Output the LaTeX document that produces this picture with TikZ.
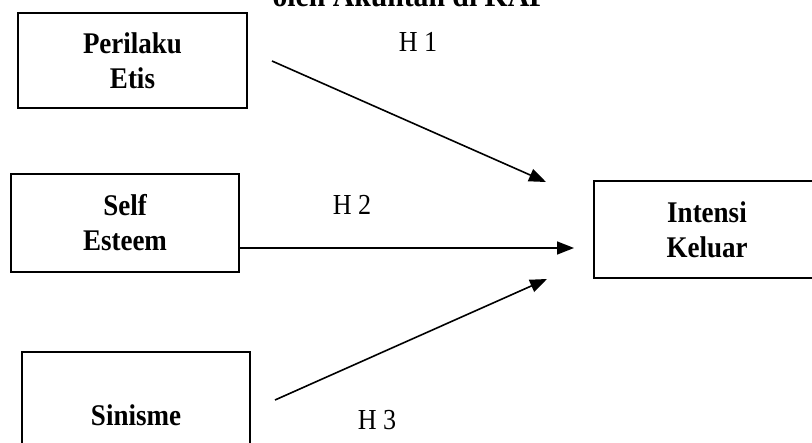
\documentclass[tikz,border=0pt]{standalone}
\usepackage{fontspec}
\setmainfont{Liberation Serif}
\newfontfamily\narrowserif[FakeStretch=0.9]{Liberation Serif}
\usetikzlibrary{arrows.meta}
\begin{document}
\begin{tikzpicture}[x=1pt,y=-1pt,
  varbox/.style={draw, line width=1.8pt, inner sep=0pt, align=center,
    font=\narrowserif\fontsize{30}{35}\selectfont\bfseries},
  hyp/.style={inner sep=0pt, font=\narrowserif\fontsize{29}{30}\selectfont},
  link/.style={line width=1.6pt, -{Triangle[length=17pt,width=13pt]}}]
\useasboundingbox (0,0) rectangle (812,443);
\clip (0,0) rectangle (812,443);

% heading, cut at the top edge
\node[anchor=base, inner sep=0pt, font=\narrowserif\fontsize{33}{33}\selectfont\bfseries]
  (title) at (410,7) {oleh Akuntan di KAP};

% variables
\node[varbox, minimum width=229pt, minimum height=95pt] (etis) at (132.5,60.5) {Perilaku\\Etis};
\node[varbox, minimum width=228pt, minimum height=98pt] (self) at (125,223) {Self\\Esteem};
\node[varbox, minimum width=228pt, minimum height=126pt] (sinis) at (136,415) {Sinisme};
\node[varbox, minimum width=226pt, minimum height=97pt] (intensi) at (707,229.5) {Intensi\\Keluar};

% hypothesis labels
\node[hyp] (h1) at (418,42) {H 1};
\node[hyp] (h2) at (352,205) {H 2};
\node[hyp] (h3) at (377,420) {H 3};

% arrow ends
\coordinate (s1) at (272,61);
\coordinate (t1) at (546,182);
\coordinate (s2) at (self.east |- 0,248);
\coordinate (t2) at (574,248);
\coordinate (s3) at (275,400);
\coordinate (t3) at (547,279);

\draw[link] (s1) -- (t1);
\draw[link] (s2) -- (t2);
\draw[link] (s3) -- (t3);
\end{tikzpicture}
\end{document}
